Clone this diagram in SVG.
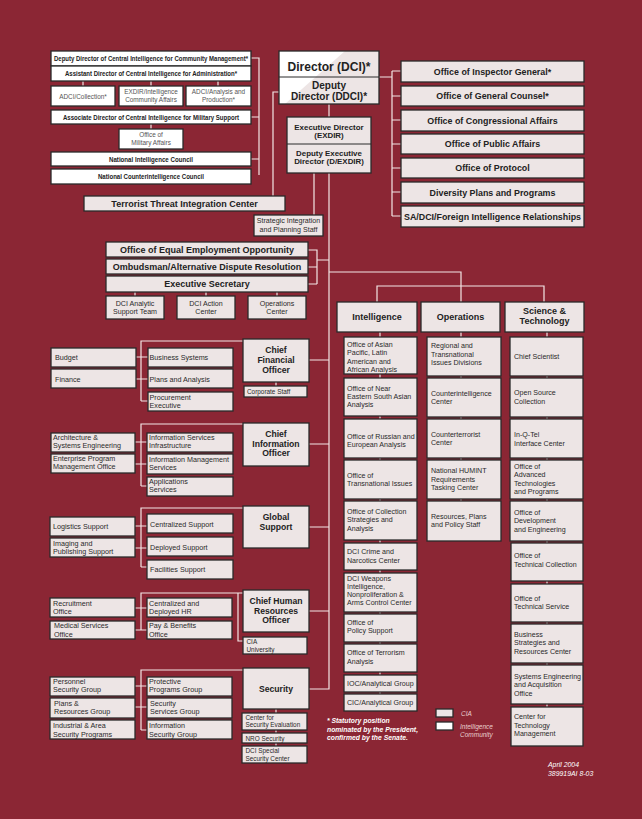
<svg xmlns="http://www.w3.org/2000/svg" width="642" height="819" viewBox="0 0 642 819">
<style>
.c{stroke:#F3E6E6;stroke-width:1.2;fill:none}
.b{fill:#EDE5E5;stroke:#2A2A2A;stroke-width:1.3}
.w{fill:#FFFFFF;stroke:#2A2A2A;stroke-width:1.3}
text{font-family:"Liberation Sans",Arial,sans-serif;fill:#2A2A2A}
.s{font-size:7.1px}
.x{font-size:6.4px}
.l{font-size:7.2px}
.sc{font-size:7.1px;text-anchor:middle}
.tb{font-size:6.4px;font-weight:bold;text-anchor:middle;fill:#222}
.tr{font-size:6.4px;text-anchor:middle;fill:#555}
.h{font-size:9px;font-weight:bold;text-anchor:middle;fill:#222}
.t{font-size:8.6px;font-weight:bold;text-anchor:middle;fill:#222}
.m{font-size:8.9px;font-weight:bold;text-anchor:middle;fill:#222}
.e{font-size:7.9px;font-weight:bold;text-anchor:middle;fill:#222}
.f{font-size:6.8px;font-weight:bold;font-style:italic;fill:#FFFFFF}
.g{font-size:6.5px;font-style:italic;fill:#E9CFCF}
.d{font-size:6.9px;font-style:italic;fill:#FFFFFF}
</style>
<rect x="0" y="0" width="642" height="819" fill="#8B2634"/>

<g id="connectors">
<path class="c" d="M251,58H259V175M251,117H259M251,159H259M83,81V86M151,81V86M218,81V86M151,124V129"/>
<path class="c" d="M280,92H273V196"/>
<path class="c" d="M379,77H392M392,71V216M392,71H401M392,96H401M392,120H401M392,144H401M392,168H401M392,192H401M392,216H401"/>
<path class="c" d="M329,104V117M314,173V215M329,173V689H309"/>
<path class="c" d="M308,250H317V284M308,267H317M308,284H317M317,260H329M135,292V296M206,292V296M277,292V296"/>
<path class="c" d="M329,272H461V302M377,302V286H544V302"/>
<path class="c" d="M380,332V694M461,332V501M547,332V707"/>
<path class="c" d="M309,360H329M243,341H141V401M136,357H148M136,379H148M141,401H148M276,382V386"/>
<path class="c" d="M309,444H329M243,424H141V486M135,442H147M135,464H147M141,486H147"/>
<path class="c" d="M309,527H329M243,508H141V567M135,526H147M135,548H147M141,567H147"/>
<path class="c" d="M309,611H329M243,593H141V630M135,608H147M135,630H147M238,593V641H243"/>
<path class="c" d="M243,670H141V730M135,686H147M135,707H147M141,730H147M276,709V746"/>
</g>

<g id="ddci-cm"><rect class="w" x="51" y="51" width="200" height="15"/><text class="tb" x="151" y="61" textLength="194" lengthAdjust="spacingAndGlyphs">Deputy Director of Central Intelligence for Community Management*</text></g>
<g id="adci-admin"><rect class="w" x="51" y="66" width="200" height="15"/><text class="tb" x="151" y="76" textLength="172" lengthAdjust="spacingAndGlyphs">Assistant Director of Central Intelligence for Administration*</text></g>
<g id="adci-collection"><rect class="w" x="51" y="86" width="64" height="20"/><text class="tr" x="83" y="98.5">ADCI/Collection*</text></g>
<g id="exdir-ica"><rect class="w" x="119" y="86" width="64" height="20"/><text class="tr" x="151" y="94">EXDIR/Intelligence</text><text class="tr" x="151" y="102">Community Affairs</text></g>
<g id="adci-ap"><rect class="w" x="186" y="86" width="65" height="20"/><text class="tr" x="218.5" y="94">ADCI/Analysis and</text><text class="tr" x="218.5" y="102">Production*</text></g>
<g id="adci-ms"><rect class="w" x="51" y="110" width="200" height="14"/><text class="tb" x="151" y="119.5" textLength="176" lengthAdjust="spacingAndGlyphs">Associate Director of Central Intelligence for Military Support</text></g>
<g id="oma"><rect class="w" x="119" y="129" width="64" height="20"/><text class="tr" x="151" y="137">Office of</text><text class="tr" x="151" y="145">Military  Affairs</text></g>
<g id="nic"><rect class="w" x="51" y="152" width="200" height="14"/><text class="tb" x="151" y="161.5" textLength="84" lengthAdjust="spacingAndGlyphs">National Intelligence Council</text></g>
<g id="ncic"><rect class="w" x="51" y="169" width="200" height="15"/><text class="tb" x="151" y="179" textLength="106" lengthAdjust="spacingAndGlyphs">National Counterintelligence Council</text></g>

<g id="dci">
<rect x="279" y="51" width="100" height="53" fill="#EDE5E5"/>
<polygon points="279,51 345,51 285,104 279,104" fill="#FFFFFF"/>
<rect x="279" y="51" width="100" height="53" fill="none" stroke="#2A2A2A" stroke-width="1.3"/>
<line x1="279" y1="77" x2="379" y2="77" stroke="#2A2A2A" stroke-width="1"/>
<text x="329" y="70.8" textLength="83" lengthAdjust="spacingAndGlyphs" style="font-size:13.5px;font-weight:bold;text-anchor:middle;fill:#222">Director (DCI)*</text>
<text x="329" y="88.8" style="font-size:10px;font-weight:bold;text-anchor:middle;fill:#222">Deputy</text>
<text x="329" y="100" style="font-size:10px;font-weight:bold;text-anchor:middle;fill:#222">Director (DDCI)*</text>
</g>
<g id="exdir">
<rect class="b" x="287" y="117" width="84" height="56"/>
<line x1="287" y1="144" x2="371" y2="144" stroke="#2A2A2A" stroke-width="1"/>
<text class="e" x="329" y="129.5">Executive Director</text><text class="e" x="329" y="138.4">(EXDIR)</text>
<text class="e" x="329" y="155.5">Deputy Executive</text><text class="e" x="329" y="164.4">Director (D/EXDIR)</text>
</g>
<g id="ttic"><rect class="b" x="84" y="196" width="201" height="15"/><text class="h" x="184.5" y="206.8">Terrorist Threat Integration Center</text></g>
<g id="sips"><rect class="b" x="254" y="215" width="69" height="21"/><text class="sc" x="288.5" y="223">Strategic Integration</text><text class="sc" x="288.5" y="231.5">and Planning Staff</text></g>

<g id="oig"><rect class="b" x="401" y="61" width="183" height="21"/><text class="m" x="492.5" y="74.5">Office of Inspector General*</text></g>
<g id="ogc"><rect class="b" x="401" y="86" width="183" height="20"/><text class="m" x="492.5" y="99">Office of General Counsel*</text></g>
<g id="oca"><rect class="b" x="401" y="110" width="183" height="21"/><text class="m" x="492.5" y="123.5">Office of Congressional Affairs</text></g>
<g id="opa"><rect class="b" x="401" y="134" width="183" height="20"/><text class="m" x="492.5" y="147">Office of Public Affairs</text></g>
<g id="op"><rect class="b" x="401" y="158" width="183" height="20"/><text class="m" x="492.5" y="171">Office of Protocol</text></g>
<g id="dpp"><rect class="b" x="401" y="182" width="183" height="21"/><text class="m" x="492.5" y="195.5">Diversity Plans and Programs</text></g>
<g id="sadci"><rect class="b" x="401" y="206" width="183" height="21"/><text class="m" x="492.5" y="219.5">SA/DCI/Foreign Intelligence Relationships</text></g>

<g id="eeo"><rect class="b" x="106" y="242" width="202" height="15"/><text class="h" x="207" y="253">Office of Equal Employment Opportunity</text></g>
<g id="ombuds"><rect class="b" x="106" y="259" width="202" height="15"/><text class="h" x="207" y="270">Ombudsman/Alternative Dispute Resolution</text></g>
<g id="execsec"><rect class="b" x="106" y="276" width="202" height="16"/><text class="h" x="207" y="287.3">Executive Secretary</text></g>
<g id="dcias"><rect class="b" x="106" y="296" width="58" height="23"/><text class="sc" x="135" y="305.5">DCI Analytic</text><text class="sc" x="135" y="314">Support Team</text></g>
<g id="dciac"><rect class="b" x="177" y="296" width="58" height="23"/><text class="sc" x="206" y="305.5">DCI Action</text><text class="sc" x="206" y="314">Center</text></g>
<g id="opsc"><rect class="b" x="248" y="296" width="58" height="23"/><text class="sc" x="277" y="305.5">Operations</text><text class="sc" x="277" y="314">Center</text></g>

<g id="di"><rect class="b" x="337" y="302" width="80" height="30"/><text class="h" x="377" y="320">Intelligence</text></g>
<g id="do"><rect class="b" x="421" y="302" width="79" height="30"/><text class="h" x="460.5" y="320">Operations</text></g>
<g id="dst"><rect class="b" x="505" y="302" width="79" height="30"/><text class="h" x="544.5" y="314">Science &amp;</text><text class="h" x="544.5" y="324">Technology</text></g>

<g id="di-1"><rect class="b" x="344" y="337" width="73" height="37"/><text class="s" x="347" y="347">Office of Asian</text><text class="s" x="347" y="355.3">Pacific, Latin</text><text class="s" x="347" y="363.6">American and</text><text class="s" x="347" y="371.9">African Analysis</text></g>
<g id="di-2"><rect class="b" x="344" y="378" width="73" height="38"/><text class="s" x="347" y="390.5">Office of Near</text><text class="s" x="347" y="398.8">Eastern South Asian</text><text class="s" x="347" y="407.1">Analysis</text></g>
<g id="di-3"><rect class="b" x="344" y="419" width="73" height="39"/><text class="s" x="347" y="439">Office of Russian and</text><text class="s" x="347" y="447.3">European Analysis</text></g>
<g id="di-4"><rect class="b" x="344" y="460" width="73" height="39"/><text class="s" x="347" y="477.5">Office of</text><text class="s" x="347" y="485.8">Transnational Issues</text></g>
<g id="di-5"><rect class="b" x="344" y="501" width="73" height="39"/><text class="s" x="347" y="514">Office of Collection</text><text class="s" x="347" y="522.3">Strategies and</text><text class="s" x="347" y="530.6">Analysis</text></g>
<g id="di-6"><rect class="b" x="344" y="543" width="73" height="27"/><text class="s" x="347" y="554">DCI Crime and</text><text class="s" x="347" y="562.5">Narcotics Center</text></g>
<g id="di-7"><rect class="b" x="344" y="573" width="73" height="39"/><text class="s" x="347" y="580.5">DCI Weapons</text><text class="s" x="347" y="588.8">Intelligence,</text><text class="s" x="347" y="597.1">Nonproliferation &amp;</text><text class="s" x="347" y="605.4">Arms Control Center</text></g>
<g id="di-8"><rect class="b" x="344" y="614" width="73" height="28"/><text class="s" x="347" y="625">Office of</text><text class="s" x="347" y="633.3">Policy Support</text></g>
<g id="di-9"><rect class="b" x="344" y="644" width="73" height="28"/><text class="s" x="347" y="655">Office of Terrorism</text><text class="s" x="347" y="663.5">Analysis</text></g>
<g id="di-10"><rect class="b" x="344" y="675" width="73" height="17"/><text class="s" x="347" y="686">IOC/Analytical Group</text></g>
<g id="di-11"><rect class="b" x="344" y="694" width="73" height="17"/><text class="s" x="347" y="705">CIC/Analytical Group</text></g>

<g id="do-1"><rect class="b" x="427" y="337" width="74" height="39"/><text class="s" x="431" y="348.3">Regional and</text><text class="s" x="431" y="356.6">Transnational</text><text class="s" x="431" y="364.9">Issues Divisions</text></g>
<g id="do-2"><rect class="b" x="427" y="378" width="74" height="39"/><text class="s" x="431" y="395.5">Counterintelligence</text><text class="s" x="431" y="403.8">Center</text></g>
<g id="do-3"><rect class="b" x="427" y="419" width="74" height="39"/><text class="s" x="431" y="436.7">Counterterrorist</text><text class="s" x="431" y="445">Center</text></g>
<g id="do-4"><rect class="b" x="427" y="460" width="74" height="39"/><text class="s" x="431" y="473.3">National HUMINT</text><text class="s" x="431" y="481.6">Requirements</text><text class="s" x="431" y="489.9">Tasking Center</text></g>
<g id="do-5"><rect class="b" x="427" y="501" width="74" height="40"/><text class="s" x="431" y="519">Resources, Plans</text><text class="s" x="431" y="527.3">and Policy Staff</text></g>

<g id="st-1"><rect class="b" x="510" y="337" width="73" height="39"/><text class="s" x="514" y="358.7">Chief Scientist</text></g>
<g id="st-2"><rect class="b" x="510" y="378" width="73" height="39"/><text class="s" x="514" y="395.3">Open Source</text><text class="s" x="514" y="403.6">Collection</text></g>
<g id="st-3"><rect class="b" x="510" y="419" width="73" height="39"/><text class="s" x="514" y="437.3">In-Q-Tel</text><text class="s" x="514" y="445.6">Interface Center</text></g>
<g id="st-4"><rect class="b" x="510" y="460" width="73" height="39"/><text class="s" x="514" y="469">Office of</text><text class="s" x="514" y="477.4">Advanced</text><text class="s" x="514" y="485.8">Technologies</text><text class="s" x="514" y="494.2">and Programs</text></g>
<g id="st-5"><rect class="b" x="510" y="501" width="73" height="40"/><text class="s" x="514" y="515">Office of</text><text class="s" x="514" y="523.4">Development</text><text class="s" x="514" y="531.8">and Engineering</text></g>
<g id="st-6"><rect class="b" x="511" y="543" width="72" height="38"/><text class="s" x="514" y="558.3">Office of</text><text class="s" x="514" y="566.8">Technical Collection</text></g>
<g id="st-7"><rect class="b" x="511" y="584" width="72" height="38"/><text class="s" x="514" y="601">Office of</text><text class="s" x="514" y="609.4">Technical Service</text></g>
<g id="st-8"><rect class="b" x="511" y="624" width="72" height="39"/><text class="s" x="514" y="637">Business</text><text class="s" x="514" y="645.4">Strategies and</text><text class="s" x="514" y="653.8">Resources Center</text></g>
<g id="st-9"><rect class="b" x="511" y="665" width="72" height="39"/><text class="s" x="514" y="679">Systems Engineering</text><text class="s" x="514" y="687.4">and Acquisition</text><text class="s" x="514" y="695.8">Office</text></g>
<g id="st-10"><rect class="b" x="511" y="707" width="72" height="39"/><text class="s" x="514" y="719">Center for</text><text class="s" x="514" y="727.5">Technology</text><text class="s" x="514" y="736">Management</text></g>

<g id="cfo"><rect class="b" x="243" y="339" width="66" height="43"/><text class="t" x="276" y="353.3">Chief</text><text class="t" x="276" y="362.9">Financial</text><text class="t" x="276" y="372.5">Officer</text></g>
<g id="corp-staff"><rect class="b" x="244" y="386" width="63" height="11"/><text class="x" x="247" y="394">Corporate Staff</text></g>
<g id="budget"><rect class="b" x="51" y="348" width="85" height="19"/><text class="l" x="55" y="360">Budget</text></g>
<g id="finance"><rect class="b" x="51" y="369" width="85" height="19"/><text class="l" x="55" y="381.5">Finance</text></g>
<g id="bus-sys"><rect class="b" x="148" y="348" width="85" height="19"/><text class="l" x="149.5" y="360">Business Systems</text></g>
<g id="plans-an"><rect class="b" x="148" y="369" width="85" height="19"/><text class="l" x="149.5" y="381.5">Plans and Analysis</text></g>
<g id="procure"><rect class="b" x="148" y="392" width="85" height="19"/><text class="l" x="149.5" y="399.5">Procurement</text><text class="l" x="149.5" y="407.8">Executive</text></g>

<g id="cio"><rect class="b" x="243" y="423" width="66" height="43"/><text class="t" x="276" y="437">Chief</text><text class="t" x="276" y="446.6">Information</text><text class="t" x="276" y="456.2">Officer</text></g>
<g id="arch"><rect class="b" x="51" y="433" width="84" height="19"/><text class="l" x="53" y="439.5">Architecture &amp;</text><text class="l" x="53" y="447.8">Systems Engineering</text></g>
<g id="epmo"><rect class="b" x="51" y="454" width="84" height="19"/><text class="l" x="53" y="461">Enterprise Program</text><text class="l" x="53" y="469.3">Management Office</text></g>
<g id="isi"><rect class="b" x="147" y="433" width="86" height="19"/><text class="l" x="149" y="439.5">Information Services</text><text class="l" x="149" y="447.8">Infrastructure</text></g>
<g id="ims"><rect class="b" x="147" y="454" width="86" height="20"/><text class="l" x="149" y="462">Information Management</text><text class="l" x="149" y="470.3">Services</text></g>
<g id="apps"><rect class="b" x="147" y="477" width="86" height="19"/><text class="l" x="149" y="483.5">Applications</text><text class="l" x="149" y="491.8">Services</text></g>

<g id="gs"><rect class="b" x="243" y="506" width="66" height="42"/><text class="t" x="276" y="520">Global</text><text class="t" x="276" y="529.6">Support</text></g>
<g id="logistics"><rect class="b" x="50" y="517" width="85" height="19"/><text class="l" x="53" y="528.5">Logistics Support</text></g>
<g id="imaging"><rect class="b" x="50" y="538" width="85" height="19"/><text class="l" x="53" y="546">Imaging and</text><text class="l" x="53" y="554.3">Publishing Support</text></g>
<g id="cent-sup"><rect class="b" x="147" y="514" width="86" height="19"/><text class="l" x="150" y="526.5">Centralized Support</text></g>
<g id="dep-sup"><rect class="b" x="147" y="537" width="86" height="19"/><text class="l" x="150" y="549.5">Deployed Support</text></g>
<g id="fac-sup"><rect class="b" x="147" y="560" width="86" height="19"/><text class="l" x="150" y="572">Facilities Support</text></g>

<g id="chro"><rect class="b" x="243" y="590" width="66" height="42"/><text class="t" x="276" y="604">Chief Human</text><text class="t" x="276" y="613.6">Resources</text><text class="t" x="276" y="623.2">Officer</text></g>
<g id="cia-u"><rect class="b" x="243" y="637" width="64" height="17"/><text class="x" x="246.5" y="643.7">CIA</text><text class="x" x="246.5" y="651.6">University</text></g>
<g id="recruit"><rect class="b" x="50" y="598" width="85" height="19"/><text class="l" x="53" y="606">Recruitment</text><text class="l" x="53" y="614.3">Office</text></g>
<g id="medical"><rect class="b" x="50" y="621" width="85" height="18"/><text class="l" x="54" y="628.3">Medical Services</text><text class="l" x="54" y="636.6">Office</text></g>
<g id="cdhr"><rect class="b" x="147" y="598" width="85" height="19"/><text class="l" x="149" y="606">Centralized and</text><text class="l" x="149" y="614.3">Deployed HR</text></g>
<g id="paybens"><rect class="b" x="147" y="621" width="85" height="18"/><text class="l" x="149" y="628.3">Pay &amp; Benefits</text><text class="l" x="149" y="636.6">Office</text></g>

<g id="security"><rect class="b" x="243" y="668" width="66" height="41"/><text class="t" x="276" y="691.5">Security</text></g>
<g id="cse"><rect class="b" x="242" y="713" width="65" height="17"/><text class="x" x="245.5" y="719.6">Center for</text><text class="x" x="245.5" y="727.4">Security Evaluation</text></g>
<g id="nro"><rect class="b" x="242" y="733" width="65" height="10"/><text class="x" x="245.5" y="740.5">NRO Security</text></g>
<g id="dcissc"><rect class="b" x="242" y="746" width="65" height="17"/><text class="x" x="245.5" y="752.7">DCI Special</text><text class="x" x="245.5" y="760.5">Security Center</text></g>
<g id="psg"><rect class="b" x="50" y="677" width="85" height="19"/><text class="l" x="53" y="683.5">Personnel</text><text class="l" x="53" y="691.8">Security Group</text></g>
<g id="prg"><rect class="b" x="50" y="698" width="85" height="20"/><text class="l" x="54" y="706">Plans &amp;</text><text class="l" x="54" y="714.3">Resources  Group</text></g>
<g id="iasp"><rect class="b" x="50" y="720" width="85" height="19"/><text class="l" x="53" y="728">Industrial &amp; Area</text><text class="l" x="53" y="736.5">Security Programs</text></g>
<g id="ppg"><rect class="b" x="147" y="677" width="85" height="19"/><text class="l" x="149" y="683.5">Protective</text><text class="l" x="149" y="691.8">Programs Group</text></g>
<g id="ssg"><rect class="b" x="147" y="698" width="85" height="20"/><text class="l" x="150" y="706">Security</text><text class="l" x="150" y="714.3">Services Group</text></g>
<g id="isg"><rect class="b" x="147" y="720" width="85" height="19"/><text class="l" x="149" y="728">Information</text><text class="l" x="149" y="736.5">Security Group</text></g>

<g id="footnote"><text class="f" x="327" y="723.3">*  Statutory position</text><text class="f" x="327" y="731.6">nominated by the President,</text><text class="f" x="327" y="739.9">confirmed by the Senate.</text></g>
<g id="legend">
<rect class="b" x="436" y="709" width="17" height="8"/><text class="g" x="461" y="715.5">CIA</text>
<rect class="w" x="436" y="722" width="17" height="8"/><text class="g" x="460" y="728.7">Intelligence</text><text class="g" x="460" y="737.3">Community</text>
</g>
<g id="date"><text class="d" x="548" y="767.3">April 2004</text><text class="d" x="548" y="775.5">389919AI  8-03</text></g>
</svg>
